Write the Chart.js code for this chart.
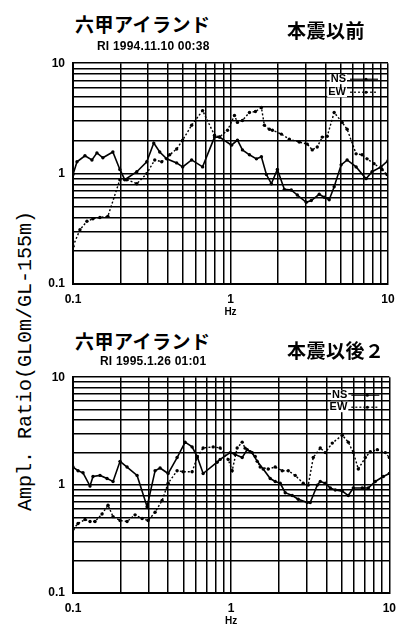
<!DOCTYPE html>
<html>
<head>
<meta charset="utf-8">
<script src="https://cdn.jsdelivr.net/npm/chart.js@4.4.0/dist/chart.umd.min.js"></script>
<style>
    html, body { margin: 0; padding: 0; background: #fff; overflow: hidden; }
    #page { position: relative; width: 404px; height: 625px; }
    canvas { position: absolute; left: 0; }
    .t { position: absolute; color: #000; white-space: nowrap; z-index: 2; }
    .jp { font-family: "Noto Sans CJK JP", sans-serif; font-weight: 700; font-size: 19px; line-height: 19px; letter-spacing: 0.5px; }
    .ri { font-family: "Liberation Sans", Arial, sans-serif; font-weight: 700; font-size: 12px; line-height: 12px; letter-spacing: 0.2px; }
    #ytitle {
        position: absolute; left: 25px; top: 361px;
        transform: translate(-50%, -50%) rotate(-90deg);
        font-family: "Liberation Mono", "DejaVu Sans Mono", monospace;
        font-size: 20px; white-space: nowrap; color: #000;
    }
</style>
</head>
<body>
<div id="page">
    <div class="t jp" style="left:75px; top:14px;">六甲アイランド</div>
    <div class="t jp" style="left:287px; top:20px;">本震以前</div>
    <div class="t ri" style="left:97px; top:40px;">RI 1994.11.10 00:38</div>

    <div class="t jp" style="left:75px; top:331px;">六甲アイランド</div>
    <div class="t jp" style="left:287px; top:340px;">本震以後２</div>
    <div class="t ri" style="left:100px; top:355px;">RI 1995.1.26 01:01</div>

    <div id="ytitle">Ampl. Ratio(GL0m/GL-155m)</div>

    <canvas id="before" width="404" height="270" style="top:48px;"></canvas>
    <canvas id="after" width="404" height="265" style="top:362px;"></canvas>
</div>

<script>
// grid lines at every 1..9 step of each decade, labels only on the decades
const gridTicks = [0.1, 0.2, 0.3, 0.4, 0.5, 0.6, 0.7, 0.8, 0.9,
                   1, 2, 3, 4, 5, 6, 7, 8, 9, 10];
const tickLabels = [0.1, 1, 10];

// 本震以前 (RI 1994.11.10)
const freqNS1 = [0.1, 0.106, 0.1191, 0.1319, 0.1419, 0.1548, 0.1791, 0.1984, 0.2134, 0.2542,
                 0.294, 0.3257, 0.3553, 0.3935, 0.4552, 0.4969, 0.5665, 0.665, 0.7917, 0.8518,
                 1.015, 1.107, 1.191, 1.319, 1.461, 1.571, 1.69, 1.817, 1.984, 2.197,
                 2.432, 2.655, 3.027, 3.257, 3.659, 3.935, 4.233, 4.552, 5.041, 5.503,
                 6.274, 7.258, 7.917, 9.031, 10];
const ampNS1 = [0.98, 1.28, 1.45, 1.33, 1.54, 1.39, 1.57, 1.09, 0.88, 1.04,
                1.28, 1.89, 1.57, 1.36, 1.25, 1.15, 1.33, 1.15, 2.14, 2.14,
                1.81, 2.01, 1.64, 1.48, 1.36, 1.42, 0.98, 0.81, 1.09, 0.72,
                0.71, 0.64, 0.55, 0.57, 0.65, 0.61, 0.58, 0.76, 1.2, 1.33,
                1.15, 0.9, 1.04, 1.15, 1.31];

const freqEW1 = [0.1, 0.1107, 0.1226, 0.1338, 0.1482, 0.1665, 0.1984, 0.2197, 0.2542, 0.294,
                 0.3304, 0.3659, 0.4111, 0.4552, 0.4969, 0.5665, 0.665, 0.7917, 0.8518, 0.9572,
                 1.06, 1.107, 1.191, 1.319, 1.439, 1.571, 1.641, 1.766, 1.845, 2.103,
                 2.363, 2.733, 3.072, 3.304, 3.553, 3.823, 4.111, 4.552, 5.116, 5.503,
                 6.274, 6.846, 7.365, 8.153, 9.163, 9.856];
const ampEW1 = [0.22, 0.31, 0.37, 0.39, 0.4, 0.41, 0.88, 0.88, 0.81, 1.0,
                1.33, 1.28, 1.48, 1.67, 2.01, 2.74, 3.72, 2.23, 2.15, 2.47,
                3.36, 2.91, 3.03, 3.58, 3.65, 3.97, 2.74, 2.52, 2.47, 2.28,
                2.05, 1.93, 1.85, 1.64, 1.74, 2.14, 2.18, 3.58, 2.91, 2.52,
                1.51, 1.48, 1.36, 1.23, 1.09, 0.98];

// 本震以後2 (RI 1995.1.26)
const freqNS2 = [0.1, 0.1076, 0.1157, 0.1281, 0.1338, 0.1482, 0.1641, 0.1791, 0.1984, 0.2197,
                 0.2542, 0.294, 0.3304, 0.3553, 0.3994, 0.4552, 0.5116, 0.5665, 0.6094, 0.665,
                 0.8153, 0.8518, 0.9856, 1.06, 1.174, 1.263, 1.358, 1.461, 1.594, 1.766,
                 1.899, 2.042, 2.197, 2.432, 2.655, 3.027, 3.162, 3.503, 3.659, 3.935,
                 4.233, 4.552, 5.041, 5.503, 5.919, 6.748, 7.365, 8.153, 9.163, 10];
const ampNS2 = [1.47, 1.36, 1.3, 0.98, 1.2, 1.23, 1.15, 1.08, 1.66, 1.47,
                1.23, 0.63, 1.36, 1.44, 1.28, 1.8, 2.5, 2.26, 1.84, 1.28,
                1.63, 1.73, 2.0, 1.92, 1.8, 2.13, 2.0, 1.66, 1.41, 1.15,
                1.08, 1.04, 0.85, 0.8, 0.74, 0.69, 0.69, 1.0, 1.08, 1.04,
                0.94, 0.9, 0.88, 0.8, 0.94, 0.94, 0.94, 1.08, 1.2, 1.28];

const freqEW2 = [0.1, 0.1076, 0.1191, 0.1281, 0.1378, 0.1526, 0.1665, 0.1791, 0.1984, 0.2197,
                 0.2469, 0.2734, 0.2984, 0.3304, 0.3659, 0.3994, 0.4552, 0.4969, 0.5665, 0.6094,
                 0.665, 0.7694, 0.8518, 0.9572, 1.015, 1.091, 1.174, 1.226, 1.319, 1.419,
                 1.526, 1.715, 1.899, 2.103, 2.296, 2.542, 2.856, 3.072, 3.304, 3.659,
                 3.935, 4.358, 5.041, 5.503, 5.919, 6.367, 7.049, 7.58, 8.397, 9.434, 10];
const ampEW2 = [0.39, 0.44, 0.48, 0.46, 0.46, 0.54, 0.65, 0.51, 0.47, 0.46,
                0.53, 0.49, 0.47, 0.56, 0.72, 1.04, 1.36, 1.33, 1.33, 1.8,
                2.21, 2.26, 2.21, 1.73, 1.36, 2.21, 2.5, 2.2, 2.04, 1.84,
                1.47, 1.41, 1.47, 1.36, 1.36, 1.23, 1.04, 1.0, 1.8, 2.21,
                2.0, 2.45, 2.9, 2.5, 2.0, 1.41, 1.8, 2.04, 2.13, 2.0, 1.8];

function toPoints(xs, ys) {
    return xs.map((x, i) => ({ x: x, y: ys[i] }));
}

// legend drawn inside the plot, text first then the line sample
const cornerLegend = {
    id: 'cornerLegend',
    afterDatasetsDraw(chart, args, opts) {
        const ctx = chart.ctx;
        const area = chart.chartArea;
        ctx.save();
        ctx.font = 'bold 11px "Liberation Sans", Arial, sans-serif';
        ctx.textAlign = 'right';
        ctx.textBaseline = 'middle';
        chart.data.datasets.forEach(function (ds, i) {
            const y = area.top + opts.rows[i];
            const xr = area.right - 42;
            const w = ctx.measureText(ds.label).width;
            ctx.fillStyle = '#fff';
            ctx.fillRect(xr - w - 1, y - 5, w + 2, 10);
            ctx.fillStyle = '#000';
            ctx.fillText(ds.label, xr, y);

            ctx.strokeStyle = '#000';
            ctx.lineWidth = 1.2;
            ctx.setLineDash(ds.borderDash || []);
            ctx.beginPath();
            ctx.moveTo(xr + 4, y);
            ctx.lineTo(xr + 32, y);
            ctx.stroke();
            ctx.setLineDash([]);
            ctx.beginPath();
            ctx.arc(xr + 20, y, 1.5, 0, Math.PI * 2);
            ctx.fill();
        });
        ctx.restore();
    }
};

function logAxis(fixedSize, isX) {
    return {
        type: 'logarithmic',
        min: 0.1,
        max: 10,
        afterBuildTicks: function (scale) {
            scale.ticks = gridTicks.map(v => ({ value: v }));
        },
        afterFit: function (scale) {
            if (isX) scale.height = fixedSize; else scale.width = fixedSize;
        },
        grid: { color: '#000', lineWidth: 1.5, drawTicks: false },
        border: { display: true, color: '#000', width: 2 },
        ticks: {
            autoSkip: false,
            maxRotation: 0,
            padding: 8,
            color: '#000',
            font: { family: '"Liberation Sans", Arial, sans-serif', size: 12, weight: 'bold' },
            callback: function (value) {
                return tickLabels.includes(value) ? String(value) : '';
            }
        },
        title: isX ? {
            display: true,
            text: 'Hz',
            color: '#000',
            padding: 0,
            font: { family: '"Liberation Sans", Arial, sans-serif', size: 10, weight: 'bold' }
        } : { display: false }
    };
}

function createChart(canvasId, nsX, nsY, ewX, ewY, padRight, rows) {
    const ctx = document.getElementById(canvasId).getContext('2d');
    return new Chart(ctx, {
        type: 'line',
        data: {
            datasets: [{
                label: 'NS',
                data: toPoints(nsX, nsY),
                borderColor: '#000',
                backgroundColor: '#000',
                borderWidth: 1.6,
                pointRadius: 1.7,
                pointBorderWidth: 0,
                tension: 0
            }, {
                label: 'EW',
                data: toPoints(ewX, ewY),
                borderColor: '#000',
                backgroundColor: '#000',
                borderWidth: 1.4,
                borderDash: [2, 2],
                pointRadius: 1.7,
                pointBorderWidth: 0,
                tension: 0
            }]
        },
        options: {
            responsive: false,
            animation: false,
            devicePixelRatio: 1,
            layout: { padding: { left: 0, right: padRight, top: 11, bottom: 0 } },
            plugins: {
                legend: { display: false },
                tooltip: { enabled: false },
                cornerLegend: { rows: rows }
            },
            scales: {
                x: logAxis(34, true),
                y: logAxis(73, false)
            }
        },
        plugins: [cornerLegend]
    });
}

createChart('before', freqNS1, ampNS1, freqEW1, ampEW1, 16, [16, 29]);
createChart('after', freqNS2, ampNS2, freqEW2, ampEW2, 14, [18, 30]);
</script>
</body>
</html>
